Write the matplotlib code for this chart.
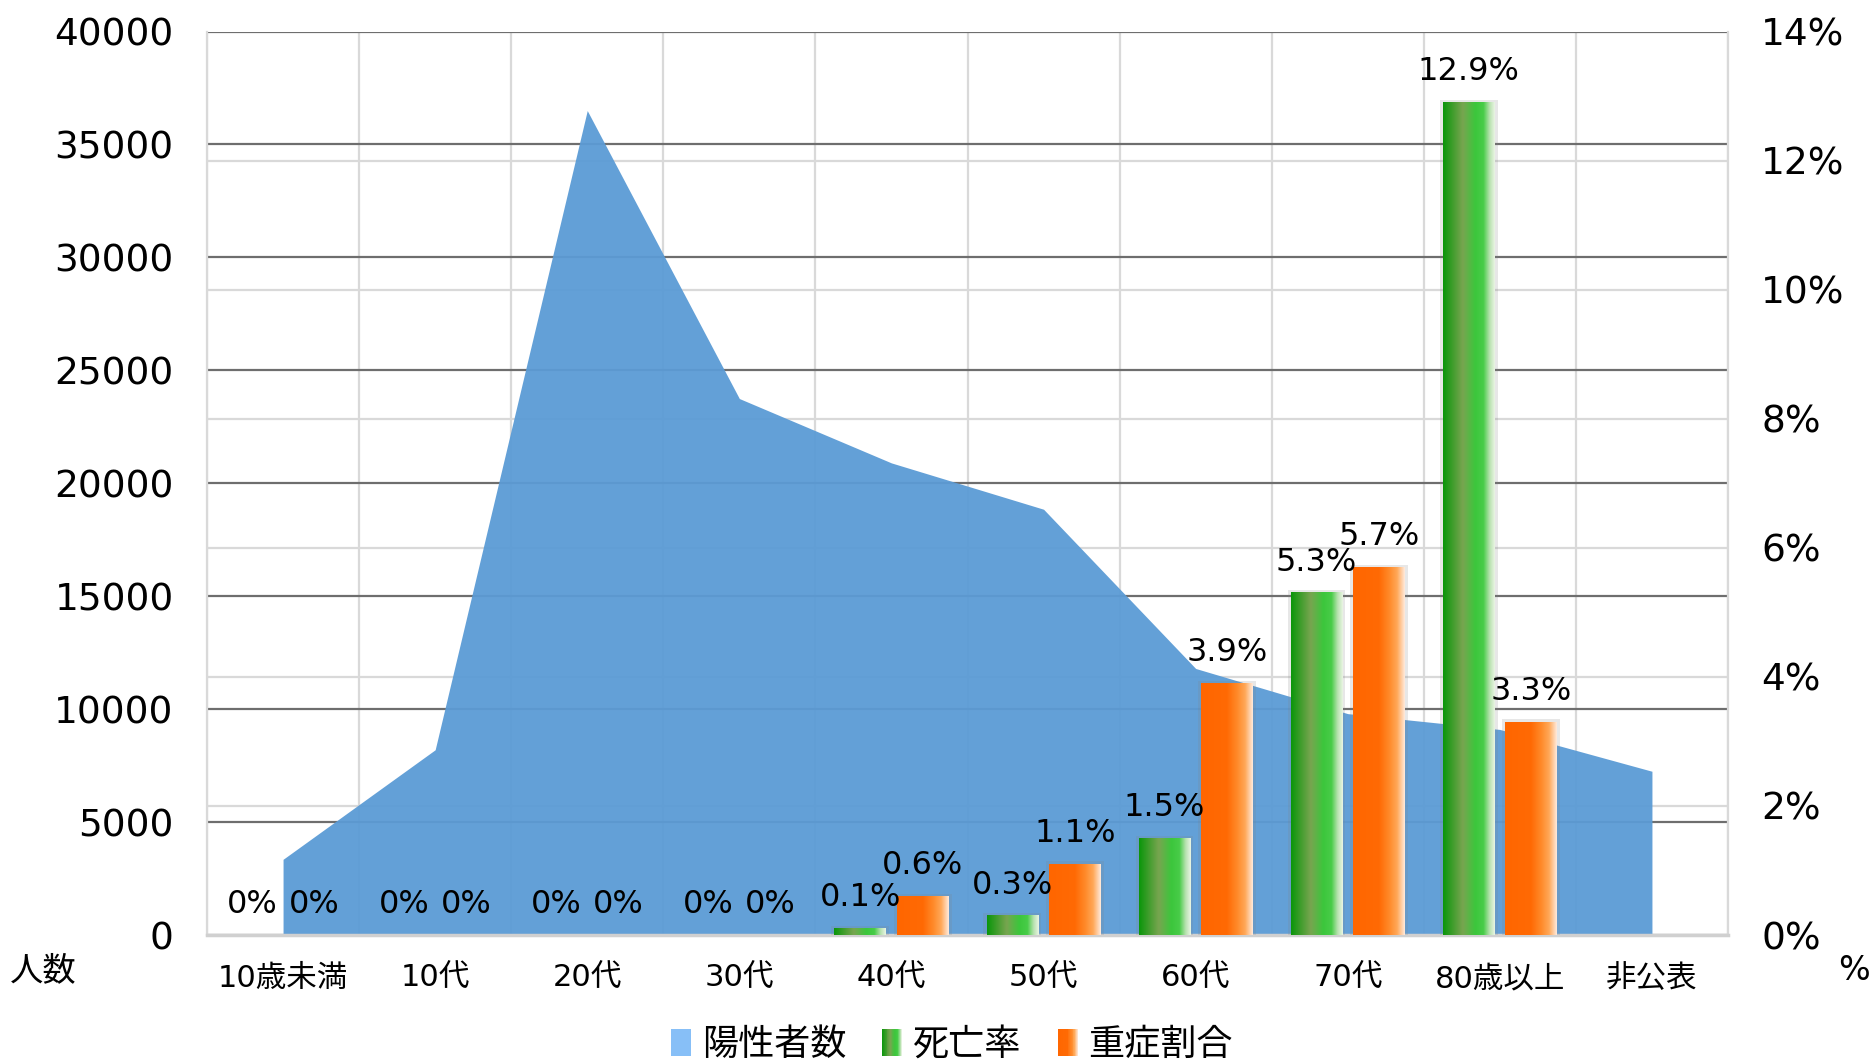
import numpy as np
import matplotlib
matplotlib.use("Agg")
import matplotlib.pyplot as plt
from matplotlib.colors import LinearSegmentedColormap
from matplotlib.patches import Rectangle, Patch
from matplotlib.legend_handler import HandlerBase

plt.rcParams['font.family'] = ['DejaVu Sans', 'Noto Sans CJK JP']

# 年代別データ
age_groups = ['10歳未満', '10代', '20代', '30代', '40代', '50代', '60代', '70代', '80歳以上', '非公表']
positives = [3350, 8200, 36500, 23750, 20900, 18850, 11800, 9800, 9100, 7250]
death_rate = [0, 0, 0, 0, 0.1, 0.3, 1.5, 5.3, 12.9, np.nan]
severe_rate = [0, 0, 0, 0, 0.6, 1.1, 3.9, 5.7, 3.3, np.nan]

green_cmap = LinearSegmentedColormap.from_list(
    'green_bar', [(0, '#0a960a'), (0.38, '#78a550'), (0.62, '#3cc63c'),
                  (0.78, '#48cc48'), (0.9, '#b8e2b0'), (1, '#eaf5e4')])
orange_cmap = LinearSegmentedColormap.from_list(
    'orange_bar', [(0, '#ff6600'), (0.5, '#ff6a04'), (0.7, '#ff8a2a'),
                   (0.85, '#ffa858'), (1, '#ffeadc')])


class GradientHandler(HandlerBase):
    def __init__(self, cmap):
        super().__init__()
        self.cmap = cmap

    def create_artists(self, legend, orig_handle, xdescent, ydescent,
                       width, height, fontsize, trans):
        n = 24
        arts = []
        for i in range(n):
            r = Rectangle((-xdescent + i * width / n, -ydescent), width / n * 1.05, height,
                          facecolor=self.cmap((i + 0.5) / n), lw=0, transform=trans)
            arts.append(r)
        return arts


def gradient_bar(ax, x, h, w, cmap):
    if np.isnan(h) or h <= 0:
        return
    shadow = Rectangle((x - w / 2 - 0.02, 0), w + 0.04, h + 0.04, facecolor='#7f7f7f',
                       alpha=0.18, lw=0, zorder=2)
    ax.add_patch(shadow)
    grad = np.linspace(0, 1, 256).reshape(1, -1)
    ax.imshow(grad, extent=[x - w / 2, x + w / 2, 0, h], aspect='auto', cmap=cmap,
              interpolation='bilinear', zorder=3)


fig = plt.figure(figsize=(18.76, 10.64), dpi=100)
ax = fig.add_axes([207 / 1876, 129 / 1064, 1521 / 1876, 903.5 / 1064])
ax2 = ax.twinx()

x = np.arange(len(age_groups))
ymax = 40000
pmax = 14

# 陽性者数（面グラフ）
ax.fill_between(x, positives, 0, color='#5b9bd5', alpha=0.95, lw=0, zorder=2)

ax.set_xlim(-0.5, len(age_groups) - 0.5)
ax.set_ylim(0, ymax)
ax.set_yticks(np.arange(0, ymax + 1, 5000))
ax.set_yticks(np.linspace(0, ymax, pmax // 2 + 1), minor=True)
ax.set_xticks(x)
ax.set_xticks(np.arange(-0.5, len(age_groups), 1), minor=True)
ax.set_xticklabels(age_groups, fontsize=22)
ax.tick_params(axis='y', which='major', length=0, labelsize=27, pad=24)
ax.tick_params(axis='x', which='major', length=0, pad=21)
ax.tick_params(which='minor', length=0)
ax.grid(which='major', axis='y', color='#6e6e6e', lw=1.6, zorder=0)
ax.grid(which='minor', axis='both', color='#d9d9d9', lw=1.6, zorder=0)
ax.set_axisbelow(True)
ax.spines['top'].set_visible(False)
for side in ['left', 'right']:
    ax.spines[side].set_color('#d9d9d9')
    ax.spines[side].set_linewidth(1.6)
ax.spines['bottom'].set_color('#d0d0d0')
ax.spines['bottom'].set_linewidth(2.5)

# 死亡率・重症割合（棒グラフ）
bw = 0.34
off = 0.205
for i in x:
    gradient_bar(ax2, i - off, death_rate[i], bw, green_cmap)
    gradient_bar(ax2, i + off, severe_rate[i], bw, orange_cmap)
    for xv, v in [(i - off, death_rate[i]), (i + off, severe_rate[i])]:
        if np.isnan(v):
            continue
        ax2.annotate(f'{v:g}%', (xv, v), xytext=(0, 22), textcoords='offset points',
                     ha='center', va='center', fontsize=23, zorder=5)

ax2.set_xlim(-0.5, len(age_groups) - 0.5)
ax2.set_ylim(0, pmax)
ax2.set_yticks(np.arange(0, pmax + 1, 2))
ax2.set_yticklabels([f'{t}%' for t in range(0, pmax + 1, 2)])
ax2.tick_params(axis='y', length=0, labelsize=27, pad=24)
for side in ['top', 'left', 'right', 'bottom']:
    ax2.spines[side].set_visible(False)

fig.text(10 / 1876, 1 - 971 / 1064, '人数', fontsize=24, va='center', ha='left')
fig.text(1854 / 1876, 1 - 971 / 1064, '%', fontsize=24, va='center', ha='center')

handles = [Patch(facecolor='#87bff7'), Patch(), Patch()]
labels = ['陽性者数', '死亡率', '重症割合']
fig.legend(handles, labels, loc='center', bbox_to_anchor=(952 / 1876, 1 - 1045 / 1064),
           ncol=3, frameon=False, fontsize=26, handlelength=0.55, handleheight=0.75,
           handletextpad=0.3, columnspacing=1.0,
           handler_map={handles[1]: GradientHandler(green_cmap),
                        handles[2]: GradientHandler(orange_cmap)})

fig.savefig('out.png', dpi=100)
